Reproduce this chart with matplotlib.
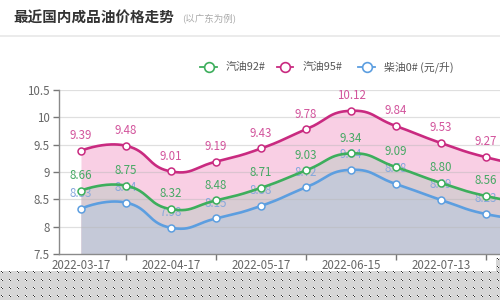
import numpy as np
import matplotlib
matplotlib.use('Agg')
import matplotlib.pyplot as plt
from matplotlib.lines import Line2D

# ---------------- data ----------------
dates = ['2022-03-17', '2022-03-31', '2022-04-17', '2022-04-28', '2022-05-17',
         '2022-05-31', '2022-06-15', '2022-06-28', '2022-07-13', '2022-07-27',
         '2022-08-10']
gas92 = [8.66, 8.75, 8.32, 8.48, 8.71, 9.03, 9.34, 9.09, 8.80, 8.56, 8.42]
gas95 = [9.39, 9.48, 9.01, 9.19, 9.43, 9.78, 10.12, 9.84, 9.53, 9.27, 9.10]
diesel0 = [8.33, 8.44, 7.98, 8.15, 8.38, 8.72, 9.04, 8.78, 8.49, 8.23, 8.13]
series_names = ['汽油92#', '汽油95#', '柴油0# (元/升)']
yticks = [7.5, 8, 8.5, 9, 9.5, 10, 10.5]
ytick_labels = ['7.5', '8', '8.5', '9', '9.5', '10', '10.5']

plt.rcParams['font.family'] = ['Noto Sans CJK SC', 'DejaVu Sans']

C92 = '#3dae5c'
C95 = '#c92a80'
C0 = '#5c9ee0'
L92 = '#45a863'
L95 = '#d2549c'
L0 = '#86a8dc'


def smooth_curve(ys, smooth=0.5, n=40, sx=45.0, sy=54.67):
    X = np.arange(len(ys), dtype=float) * sx
    Y = np.asarray(ys, float) * sy
    m = len(X)
    cb = [None] * m
    ca = [None] * m
    for i in range(m):
        if i == 0 or i == m - 1:
            cb[i] = (X[i], Y[i]); ca[i] = (X[i], Y[i]); continue
        vx = X[i + 1] - X[i - 1]; vy = Y[i + 1] - Y[i - 1]
        d0 = np.hypot(X[i] - X[i - 1], Y[i] - Y[i - 1])
        d1 = np.hypot(X[i + 1] - X[i], Y[i + 1] - Y[i])
        r = d1 / (d0 + d1)
        cb[i] = (X[i] - vx * smooth * (1 - r), Y[i] - vy * smooth * (1 - r))
        ca[i] = (X[i] + vx * smooth * r, Y[i] + vy * smooth * r)
    xs, yv = [], []
    t = np.linspace(0, 1, n)
    for i in range(m - 1):
        p0 = np.array([X[i], Y[i]]); p1 = np.array(ca[i])
        p2 = np.array(cb[i + 1]); p3 = np.array([X[i + 1], Y[i + 1]])
        b = ((1 - t) ** 3)[:, None] * p0 + (3 * (1 - t) ** 2 * t)[:, None] * p1 \
            + (3 * (1 - t) * t ** 2)[:, None] * p2 + (t ** 3)[:, None] * p3
        if i > 0:
            b = b[1:]
        xs.extend(b[:, 0]); yv.extend(b[:, 1])
    return np.array(xs) / sx, np.array(yv) / sy


fig = plt.figure(figsize=(5, 3), dpi=100)
fig.patch.set_facecolor('white')
W, H = 500.0, 300.0
ax = fig.add_axes([58.5 / W, 1 - 254 / H, (W - 58.5) / W, 164 / H])
ax.set_facecolor('white')
xmax = (W - 81) / 45.0

idx = np.arange(len(dates))
x95, y95 = smooth_curve(gas95)
x92, y92 = smooth_curve(gas92)
x0, y0 = smooth_curve(diesel0)

ax.fill_between(x95, y95, 7.5, color='#f9cfe4', lw=0, zorder=1)
ax.fill_between(x92, y92, 7.5, color='#d9ccd3', lw=0, zorder=1.1)
ax.fill_between(x0, y0, 7.5, color='#c5c9d8', lw=0, zorder=1.2)

for yv in yticks[1:]:
    ax.axhline(yv, color='#b8b8b8', lw=0.9, alpha=0.45, zorder=2)

visible = [i for i in idx if i <= xmax]

# blue labels first (beneath the green line)
for i in visible:
    v = diesel0[i]
    ax.annotate(f'{v:.2f}', (i, v), xytext=(0, 11), textcoords='offset points',
                ha='center', va='center', fontsize=8.3, color=L0, zorder=3)

for xs, ys, vals, c in [(x0, y0, diesel0, C0), (x92, y92, gas92, C92), (x95, y95, gas95, C95)]:
    ax.plot(xs, ys, color=c, lw=1.9, zorder=5, solid_capstyle='round')
    ax.plot(idx, vals, 'o', ms=5, mfc='white', mec=c, mew=1.1, zorder=6)

for vals, lc in [(gas92, L92), (gas95, L95)]:
    for i in visible:
        v = vals[i]
        ax.annotate(f'{v:.2f}', (i, v), xytext=(0, 11), textcoords='offset points',
                    ha='center', va='center', fontsize=8.3, color=lc, zorder=7)

ax.set_xlim(-0.5, xmax)
ax.set_ylim(7.5, 10.5)
ax.set_yticks(yticks)
ax.set_yticklabels(ytick_labels)
major = [i for i in visible if i % 2 == 0]
ax.set_xticks(major)
ax.set_xticklabels([dates[i] for i in major])
ax.set_xticks([i for i in visible if i % 2 == 1], minor=True)
ax.tick_params(axis='x', which='major', length=0, pad=3.5, labelsize=8.3, colors='#666666')
ax.tick_params(axis='x', which='minor', length=4, width=1, color='#777777', direction='out')
ax.tick_params(axis='y', length=4, width=1, color='#777777', pad=2.5, labelsize=8.3,
               labelcolor='#666666')
for s in ['top', 'right']:
    ax.spines[s].set_visible(False)
for s in ['left', 'bottom']:
    ax.spines[s].set_color('#8a8a8a')
    ax.spines[s].set_linewidth(1.0)
    ax.spines[s].set_zorder(8)

# title
fig.text(13 / W, 1 - 18 / H, '最近国内成品油价格走势', fontsize=10.5, fontweight='bold',
         color='#333333', va='center', ha='left')
fig.text(182 / W, 1 - 18 / H, '(以广东为例)', fontsize=6.8, color='#aaaaaa',
         va='center', ha='left')
fig.add_artist(Line2D([0, 1], [1 - 36 / H] * 2, transform=fig.transFigure,
                      color='#e8e8e8', lw=1.2))

# legend
leg = [(C92, 200, 217, 226, series_names[0]),
       (C95, 277, 293, 303, series_names[1]),
       (C0, 358, 375, 384, series_names[2])]
ly = 1 - 67 / H
for c, a, b, tx, name in leg:
    fig.add_artist(Line2D([a / W, b / W], [ly, ly], transform=fig.transFigure,
                          color=c, lw=1.3))
    fig.add_artist(Line2D([(a + b) / 2 / W], [ly], transform=fig.transFigure,
                          marker='o', ms=7, mfc='white', mec=c, mew=1.2, lw=0))
    fig.text(tx / W, ly, name, fontsize=7.8, color='#555555', va='center', ha='left')

# checkerboard strip (transparent area in the reference)
def checker(h, w):
    img = np.ones((h, w, 3)) * 0.84
    yy, xx = np.mgrid[0:h, 0:w]
    xm, ym = xx % 8, (yy + 1) % 8
    dark = ((xm == 1) & (ym == 1)) | ((xm == 2) & (ym == 2))
    white = ((xm == 2) & (ym == 1)) | ((xm == 1) & (ym == 2))
    img[dark] = 0.2
    img[white] = 1.0
    return img

fig.figimage(checker(29, 500), xo=0, yo=0, zorder=20)
fig.figimage(checker(13, 4), xo=496, yo=29, zorder=20)

fig.savefig('out.png', dpi=100)
